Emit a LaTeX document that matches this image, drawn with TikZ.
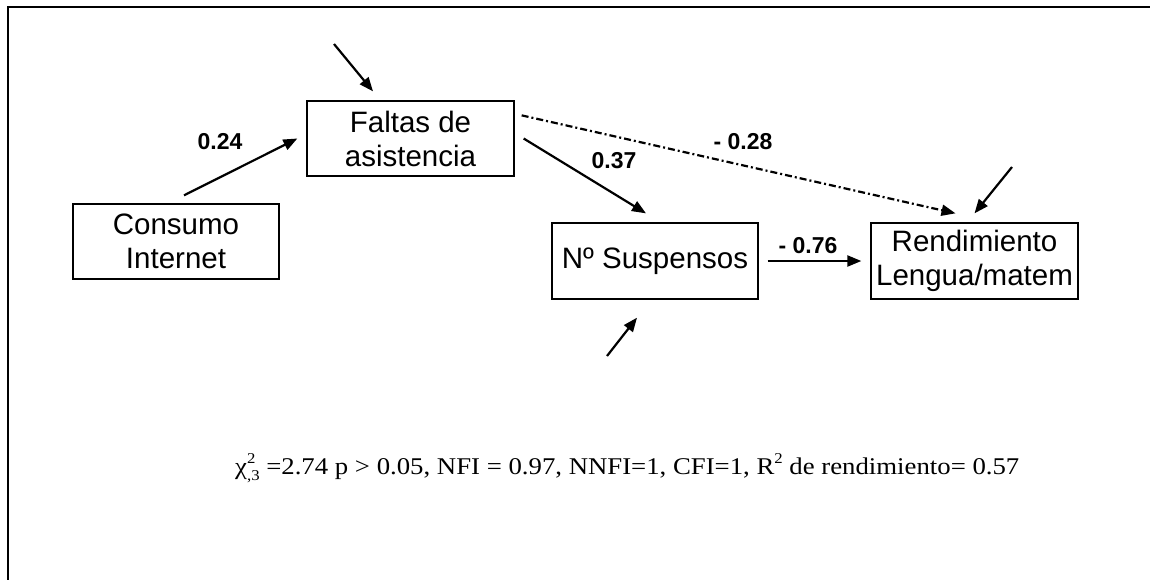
\documentclass[tikz,border=0pt]{standalone}
\usepackage{fontspec}
\setmainfont{Liberation Serif}
\newfontfamily\arialfont{Liberation Sans}
\usetikzlibrary{arrows.meta}
\tikzset{
  varbox/.style={draw, line width=1.3pt, inner sep=0pt, align=center,
    font=\arialfont\fontsize{29.5}{34}\selectfont},
  patharrow/.style={line width=2.2pt, -{Triangle[length=14pt,width=11pt]}},
  dashdotarrow/.style={patharrow, dash pattern=on 7pt off 3pt on 2pt off 3pt},
  coeflabel/.style={font=\arialfont\bfseries\fontsize{23}{26}\selectfont, inner sep=0pt},
  frameline/.style={line width=2.4pt}
}
\begin{document}
\begin{tikzpicture}[x=1pt,y=-1pt]
\useasboundingbox (0,0) rectangle (1150,579);
\fill[white] (0,0) rectangle (1150,579);
% outer frame (cut by the picture edges)
\coordinate (frbl) at (7.7,585);
\coordinate (frtl) at (7.7,6.7);
\coordinate (frtr) at (1160,6.7);
\draw[frameline] (frbl) -- (frtl) -- (frtr);

% variables
\node[varbox, minimum width=207pt, minimum height=75pt] (falt) at (410.5,138.5) {Faltas de\\asistencia};
\node[varbox, minimum width=206pt, minimum height=75pt] (cons) at (176,241.5) {Consumo\\Internet};
\node[varbox, minimum width=206pt, minimum height=76pt] (susp) at (655,261) {Nº Suspensos};
\node[varbox, minimum width=207pt, minimum height=76pt] (rend) at (974.5,261) {Rendimiento\\Lengua/matem};

% error terms (free ends)
\coordinate (efalt) at (334,44);
\coordinate (esusp) at (607,356);
\coordinate (erend) at (1012,167);

% paths
\draw[patharrow] ([xshift=8pt,yshift=8pt]cons.north) -- ([xshift=-9pt]falt.west);
\draw[patharrow] ([xshift=9pt]falt.east) -- ([xshift=-9pt,yshift=9pt]susp.north);
\draw[dashdotarrow] ([xshift=7pt,yshift=-15pt]falt.north east) -- ([xshift=-19pt,yshift=9pt]rend.north);
\draw[patharrow] ([xshift=9pt]susp.east) -- ([xshift=-9pt]rend.west);
\draw[patharrow] (efalt) -- ([xshift=-37.5pt,yshift=9pt]falt.north);
\draw[patharrow] (esusp) -- ([xshift=-18pt,yshift=-18pt]susp.south);
\draw[patharrow] (erend) -- ([yshift=9pt]rend.north);

% coefficients
\node[coeflabel] (l024) at (220,142) {0.24};
\node[coeflabel] (l037) at (614,161) {0.37};
\node[coeflabel] (l028) at (743,142) {- 0.28};
\node[coeflabel] (l076) at (808,246) {- 0.76};

% fit indices
\node[anchor=base west, inner sep=0pt, font=\fontsize{24}{28}\selectfont] (fit) at (235,474)
  {\scalebox{1.115}[1]{χ\makebox[0pt][l]{\raisebox{0.42em}{\fontsize{15}{17}\selectfont 2}}\raisebox{-0.28em}{\fontsize{15}{17}\selectfont ,3} =2.74 p > 0.05, NFI = 0.97, NNFI=1, CFI=1, R\raisebox{0.42em}{\fontsize{15}{17}\selectfont 2} de rendimiento= 0.57}};
\end{tikzpicture}
\end{document}
